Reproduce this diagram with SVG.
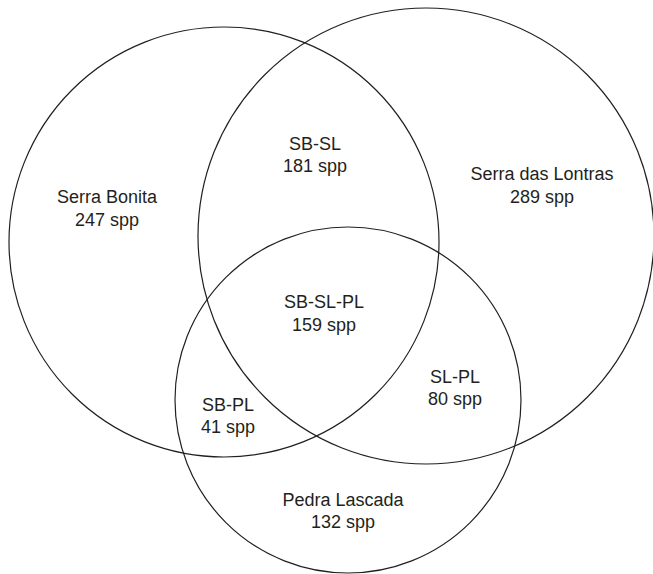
<svg xmlns="http://www.w3.org/2000/svg" width="653" height="574" viewBox="0 0 653 574">
<style>
.c{fill:none;stroke:#231f20;stroke-width:1.2}
text{font-family:"Liberation Sans",Arial,sans-serif;font-size:18px;fill:#231f20;text-anchor:middle}
</style>
<rect width="653" height="574" fill="#fff"/>
<g id="sets">
<circle id="serra-bonita" class="c" cx="224" cy="242" r="215"/>
<circle id="serra-das-lontras" class="c" cx="426" cy="236" r="228"/>
<circle id="pedra-lascada" class="c" cx="348" cy="400" r="173"/>
</g>
<g id="label-sb"><text x="107" y="203">Serra Bonita</text><text x="107" y="226">247 spp</text></g>
<g id="label-sl"><text x="542" y="180">Serra das Lontras</text><text x="542" y="203">289 spp</text></g>
<g id="label-sbsl"><text x="315" y="150">SB-SL</text><text x="315" y="172">181 spp</text></g>
<g id="label-sbslpl"><text x="324" y="308">SB-SL-PL</text><text x="324" y="331">159 spp</text></g>
<g id="label-sbpl"><text x="228" y="411">SB-PL</text><text x="228" y="433">41 spp</text></g>
<g id="label-slpl"><text x="455" y="383">SL-PL</text><text x="455" y="405">80 spp</text></g>
<g id="label-pl"><text x="343" y="506">Pedra Lascada</text><text x="343" y="528">132 spp</text></g>
</svg>
